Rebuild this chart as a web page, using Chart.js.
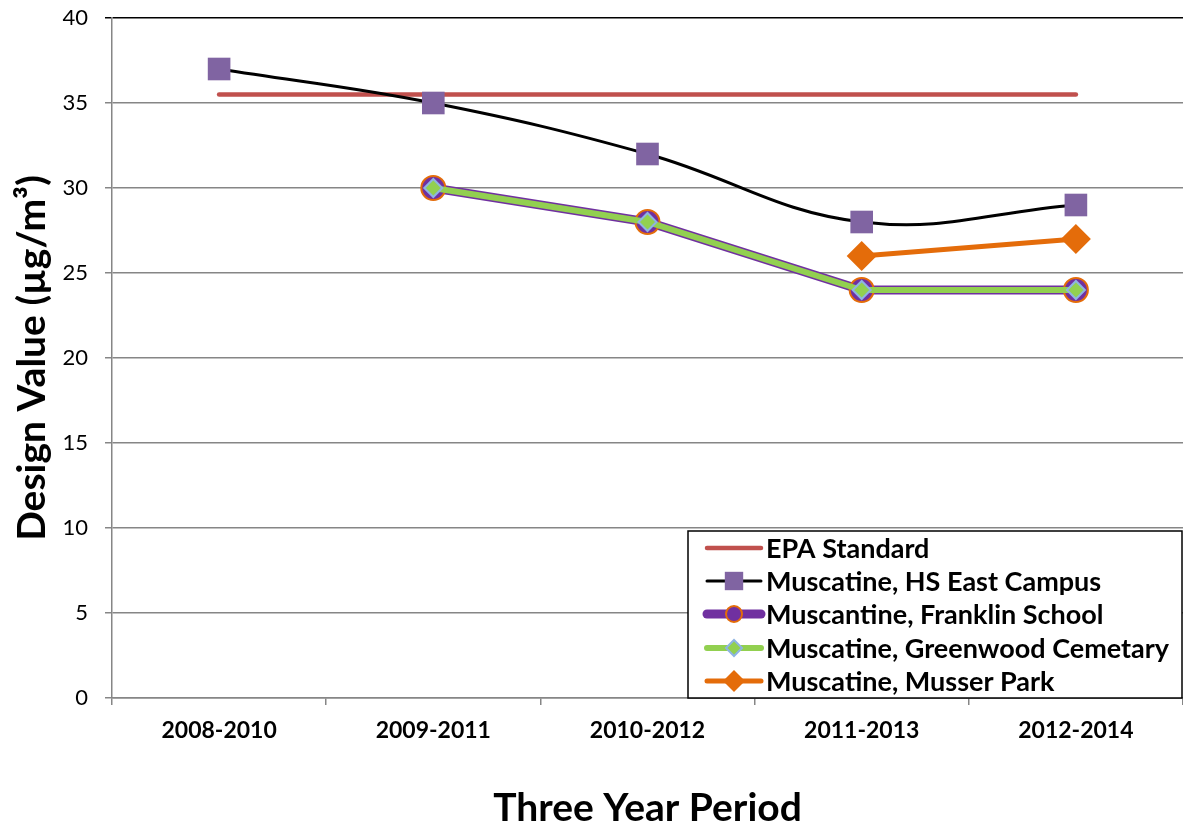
<!DOCTYPE html>
<html>
<head>
<meta charset="utf-8">
<script src="https://cdn.jsdelivr.net/npm/chart.js@4.4.0/dist/chart.umd.min.js"></script>
<style>
  html, body { margin: 0; padding: 0; background: #fff; }
  #wrap { width: 1183px; height: 832px; }
</style>
</head>
<body>
<div id="wrap"><canvas id="myChart" width="1183" height="832"></canvas></div>
<script>
// periodos (eixo x)
const periodos = ['2008-2010', '2009-2011', '2010-2012', '2011-2013', '2012-2014'];
// valores de cada serie
const epaStandard = [35.5, 35.5, 35.5, 35.5, 35.5];
const hsEastCampus = [37, 35, 32, 28, 29];
const franklinSchool = [null, 30, 28, 24, 24];
const greenwoodCemetary = [null, 30, 28, 24, 24];
const musserPark = [null, null, null, 26, 27];
const yTicks = [0, 5, 10, 15, 20, 25, 30, 35, 40];

const fonte = "Lato, 'Open Sans', sans-serif";
const cinza = '#868686';

const series = [
    { label: 'EPA Standard', data: epaStandard, borderColor: '#C0504D', backgroundColor: '#C0504D',
      borderWidth: 4.5, pointRadius: 0, pointStyle: false, tension: 0, borderCapStyle: 'round', order: 5 },
    { label: 'Muscatine, HS East Campus', data: hsEastCampus, borderColor: '#000000', borderWidth: 3,
      pointStyle: 'rect', pointRadius: 16, pointBackgroundColor: '#8064A2', pointBorderColor: '#8064A2',
      pointBorderWidth: 0, tension: 0.4, order: 4 },
    { label: 'Muscantine, Franklin School', data: franklinSchool, borderColor: '#7030A0', borderWidth: 9,
      pointStyle: 'circle', pointRadius: 12, pointBackgroundColor: '#7030A0', pointBorderColor: '#E46C0A',
      pointBorderWidth: 2, tension: 0, order: 3 },
    { label: 'Muscatine, Greenwood Cemetary', data: greenwoodCemetary, borderColor: '#92D050', borderWidth: 6,
      pointStyle: 'rectRot', pointRadius: 9, pointBackgroundColor: '#92D050', pointBorderColor: '#8EB4E3',
      pointBorderWidth: 2, tension: 0, order: 2 },
    { label: 'Muscatine, Musser Park', data: musserPark, borderColor: '#E46C0A', borderWidth: 5,
      pointStyle: 'rectRot', pointRadius: 15, pointBackgroundColor: '#E46C0A', pointBorderColor: '#E46C0A',
      pointBorderWidth: 0, tension: 0, order: 1 }
];

// legenda desenhada na mao (caixa no canto inferior direito)
const legendaBox = {
    id: 'legendaBox',
    afterDraw(chart) {
        const ctx = chart.ctx;
        const x0 = 688, y0 = 531, w = 494, h = 167;
        ctx.save();
        ctx.fillStyle = '#fff';
        ctx.fillRect(x0, y0, w, h);
        ctx.strokeStyle = '#000';
        ctx.lineWidth = 1.5;
        ctx.strokeRect(x0, y0, w, h);
        const linhas = [548, 581, 614, 648, 681];
        series.forEach((s, i) => {
            const y = linhas[i];
            ctx.beginPath();
            ctx.lineCap = 'round';
            ctx.strokeStyle = s.borderColor;
            ctx.lineWidth = s.borderWidth;
            ctx.moveTo(707, y);
            ctx.lineTo(761, y);
            ctx.stroke();
            if (s.pointStyle) {
                let r = s.pointRadius;
                if (s.pointStyle === 'rect') r = 13;
                if (s.pointStyle === 'circle') r = 8;
                if (s.pointStyle === 'rectRot' && r > 10) r = 11;
                if (s.pointStyle === 'rectRot' && s.pointRadius === 9) r = 8;
                ctx.fillStyle = s.pointBackgroundColor;
                ctx.strokeStyle = s.pointBorderColor;
                ctx.lineWidth = s.pointBorderWidth;
                Chart.helpers.drawPoint(ctx, { pointStyle: s.pointStyle, radius: r, borderWidth: s.pointBorderWidth, rotation: 0 }, 734, y);
            }
            ctx.fillStyle = '#000';
            ctx.font = 'bold 27px ' + fonte;
            ctx.textBaseline = 'middle';
            ctx.textAlign = 'left';
            ctx.fillText(s.label, 766, y + 1);
        });
        ctx.restore();
    }
};

// tira o espaco extra que o chart.js poe por causa dos labels
const semPadding = (scale) => {
    scale.paddingTop = 0;
    scale.paddingBottom = 0;
    scale.paddingLeft = 0;
    scale.paddingRight = 0;
};

const config = {
    type: 'line',
    data: { labels: periodos, datasets: series },
    options: {
        responsive: false,
        animation: false,
        layout: { autoPadding: false, padding: { top: 18, right: 0, left: 0, bottom: 0 } },
        plugins: { legend: { display: false }, tooltip: { enabled: false } },
        scales: {
            x: {
                offset: true,
                grid: { offset: true, drawOnChartArea: false, drawTicks: true, tickLength: 7, color: cinza, lineWidth: 1.5 },
                border: { color: cinza, width: 1.5 },
                ticks: { color: '#000', font: { family: fonte, size: 23, weight: 'bold' }, padding: 12, maxRotation: 0 },
                title: { display: true, text: 'Three Year Period', color: '#000',
                         font: { family: fonte, size: 39, weight: 'bold' }, padding: { top: 0, bottom: 0 } },
                afterFit: (scale) => { scale.height = 134; semPadding(scale); }
            },
            y: {
                min: 0, max: 40,
                afterBuildTicks: (scale) => { scale.ticks = yTicks.map(v => ({ value: v })); },
                grid: { color: (c) => c.tick && c.tick.value === 40 ? '#000' : cinza, lineWidth: 1.5, tickLength: 7 },
                border: { color: cinza, width: 1.5 },
                ticks: { color: '#000', font: { family: fonte, size: 22 }, padding: 17 },
                title: { display: true, text: 'Design Value (µg/m³)', color: '#000',
                         font: { family: fonte, size: 39, weight: 'bold' }, padding: { top: 9, bottom: 0 } },
                afterFit: (scale) => { scale.width = 112; semPadding(scale); }
            }
        }
    },
    plugins: [legendaBox]
};

const myChart = new Chart(document.getElementById('myChart'), config);
</script>
</body>
</html>
